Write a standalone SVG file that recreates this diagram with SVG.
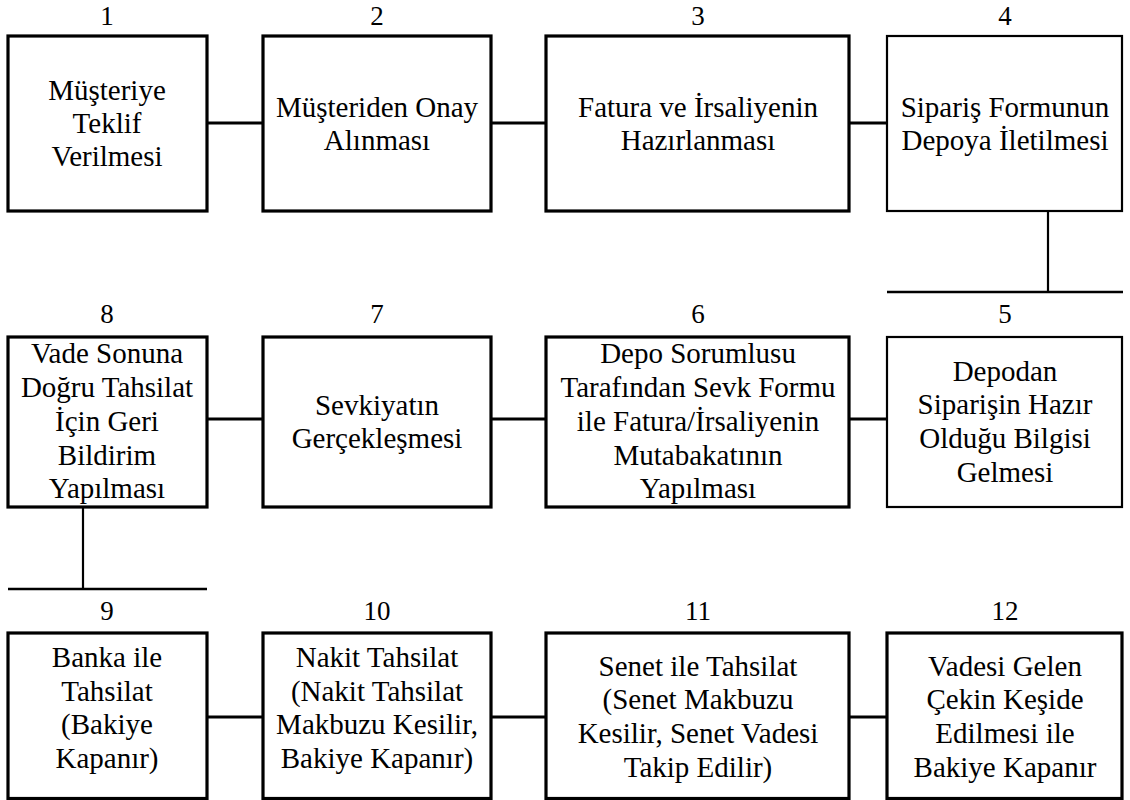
<svg xmlns="http://www.w3.org/2000/svg" width="1130" height="800" viewBox="0 0 1130 800">
<rect x="0" y="0" width="1130" height="800" fill="#ffffff"/>

<g id="connectors" stroke="#000000" stroke-width="3" fill="none">
  <line x1="207" y1="123" x2="263" y2="123"/>
  <line x1="491" y1="123" x2="546" y2="123"/>
  <line x1="849" y1="123" x2="887" y2="123"/>
  <line x1="1048" y1="211" x2="1048" y2="292" stroke-width="2.2"/>
  <line x1="887" y1="292" x2="1123" y2="292" stroke-width="2.6"/>
  <line x1="207" y1="419" x2="263" y2="419"/>
  <line x1="491" y1="419" x2="546" y2="419"/>
  <line x1="849" y1="419" x2="887" y2="419"/>
  <line x1="83" y1="507" x2="83" y2="589" stroke-width="2.2"/>
  <line x1="8" y1="589" x2="207" y2="589" stroke-width="2.6"/>
  <line x1="207" y1="717" x2="263" y2="717"/>
  <line x1="491" y1="717" x2="546" y2="717"/>
  <line x1="849" y1="717" x2="887" y2="717"/>
</g>

<g id="node1" font-family="Liberation Serif, Times New Roman, serif" font-size="29" text-anchor="middle">
  <rect x="8" y="36" width="199" height="175" fill="#ffffff" stroke="#000000" stroke-width="3.2"/>
  <text x="107" y="25" font-size="27">1</text>
  <text x="107" y="100">Müşteriye</text>
  <text x="107" y="133">Teklif</text>
  <text x="107" y="166">Verilmesi</text>
</g>
<g id="node2" font-family="Liberation Serif, Times New Roman, serif" font-size="29" text-anchor="middle">
  <rect x="263" y="36" width="228" height="175" fill="#ffffff" stroke="#000000" stroke-width="3.2"/>
  <text x="377" y="25" font-size="27">2</text>
  <text x="377" y="117">Müşteriden Onay</text>
  <text x="377" y="150">Alınması</text>
</g>
<g id="node3" font-family="Liberation Serif, Times New Roman, serif" font-size="29" text-anchor="middle">
  <rect x="546" y="36" width="303" height="175" fill="#ffffff" stroke="#000000" stroke-width="3.2"/>
  <text x="698" y="25" font-size="27">3</text>
  <text x="698" y="117">Fatura ve İrsaliyenin</text>
  <text x="698" y="150">Hazırlanması</text>
</g>
<g id="node4" font-family="Liberation Serif, Times New Roman, serif" font-size="29" text-anchor="middle">
  <rect x="887" y="36" width="235" height="175" fill="#ffffff" stroke="#000000" stroke-width="2.2"/>
  <text x="1005" y="25" font-size="27">4</text>
  <text x="1005" y="117">Sipariş Formunun</text>
  <text x="1005" y="150">Depoya İletilmesi</text>
</g>

<g id="node5" font-family="Liberation Serif, Times New Roman, serif" font-size="29" text-anchor="middle">
  <rect x="887" y="337" width="235" height="170" fill="#ffffff" stroke="#000000" stroke-width="2.2"/>
  <text x="1005" y="323" font-size="27">5</text>
  <text x="1005" y="381">Depodan</text>
  <text x="1005" y="414">Siparişin Hazır</text>
  <text x="1005" y="448">Olduğu Bilgisi</text>
  <text x="1005" y="482">Gelmesi</text>
</g>
<g id="node6" font-family="Liberation Serif, Times New Roman, serif" font-size="29" text-anchor="middle">
  <rect x="546" y="337" width="303" height="170" fill="#ffffff" stroke="#000000" stroke-width="3.2"/>
  <text x="698" y="323" font-size="27">6</text>
  <text x="698" y="363">Depo Sorumlusu</text>
  <text x="698" y="397">Tarafından Sevk Formu</text>
  <text x="698" y="431">ile Fatura/İrsaliyenin</text>
  <text x="698" y="465">Mutabakatının</text>
  <text x="698" y="498">Yapılması</text>
</g>
<g id="node7" font-family="Liberation Serif, Times New Roman, serif" font-size="29" text-anchor="middle">
  <rect x="263" y="337" width="228" height="170" fill="#ffffff" stroke="#000000" stroke-width="3.2"/>
  <text x="377" y="323" font-size="27">7</text>
  <text x="377" y="415">Sevkiyatın</text>
  <text x="377" y="448">Gerçekleşmesi</text>
</g>
<g id="node8" font-family="Liberation Serif, Times New Roman, serif" font-size="29" text-anchor="middle">
  <rect x="8" y="337" width="199" height="170" fill="#ffffff" stroke="#000000" stroke-width="3.2"/>
  <text x="107" y="323" font-size="27">8</text>
  <text x="107" y="363">Vade Sonuna</text>
  <text x="107" y="397">Doğru Tahsilat</text>
  <text x="107" y="431">İçin Geri</text>
  <text x="107" y="465">Bildirim</text>
  <text x="107" y="498">Yapılması</text>
</g>

<g id="node9" font-family="Liberation Serif, Times New Roman, serif" font-size="29" text-anchor="middle">
  <rect x="8" y="633" width="199" height="165.5" fill="#ffffff" stroke="#000000" stroke-width="3.2"/>
  <text x="107" y="620" font-size="27">9</text>
  <text x="107" y="667">Banka ile</text>
  <text x="107" y="701">Tahsilat</text>
  <text x="107" y="734">(Bakiye</text>
  <text x="107" y="768">Kapanır)</text>
</g>
<g id="node10" font-family="Liberation Serif, Times New Roman, serif" font-size="29" text-anchor="middle">
  <rect x="263" y="633" width="228" height="165.5" fill="#ffffff" stroke="#000000" stroke-width="3.2"/>
  <text x="377" y="620" font-size="27">10</text>
  <text x="377" y="667">Nakit Tahsilat</text>
  <text x="377" y="701">(Nakit Tahsilat</text>
  <text x="377" y="734">Makbuzu Kesilir,</text>
  <text x="377" y="768">Bakiye Kapanır)</text>
</g>
<g id="node11" font-family="Liberation Serif, Times New Roman, serif" font-size="29" text-anchor="middle">
  <rect x="546" y="633" width="303" height="165.5" fill="#ffffff" stroke="#000000" stroke-width="3.2"/>
  <text x="698" y="620" font-size="27">11</text>
  <text x="698" y="676">Senet ile Tahsilat</text>
  <text x="698" y="709">(Senet Makbuzu</text>
  <text x="698" y="743">Kesilir, Senet Vadesi</text>
  <text x="698" y="777">Takip Edilir)</text>
</g>
<g id="node12" font-family="Liberation Serif, Times New Roman, serif" font-size="29" text-anchor="middle">
  <rect x="887" y="633" width="235" height="165.5" fill="#ffffff" stroke="#000000" stroke-width="3.2"/>
  <text x="1005" y="620" font-size="27">12</text>
  <text x="1005" y="676">Vadesi Gelen</text>
  <text x="1005" y="709">Çekin Keşide</text>
  <text x="1005" y="743">Edilmesi ile</text>
  <text x="1005" y="777">Bakiye Kapanır</text>
</g>
</svg>
